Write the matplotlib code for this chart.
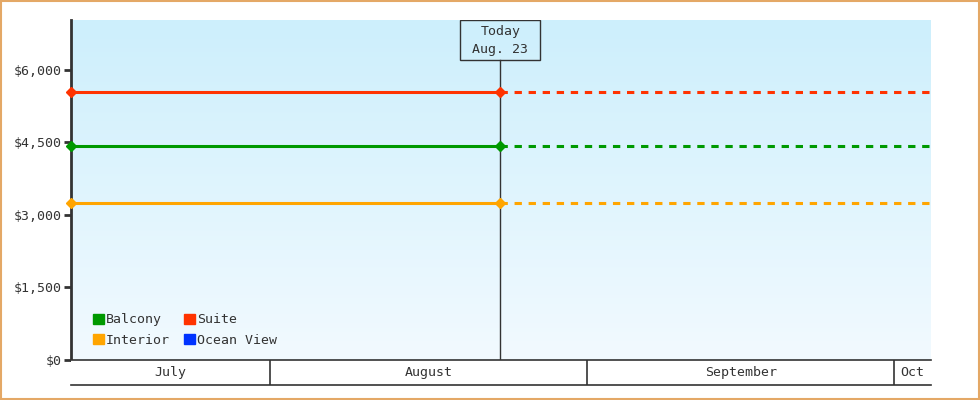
import matplotlib
matplotlib.use("Agg")
import matplotlib.pyplot as plt
import matplotlib.dates as mdates
import matplotlib.patches as mpatches
import numpy as np
from datetime import datetime

# data
cabins = ["Balcony", "Suite", "Interior", "Ocean View"]
prices = [4430, 5540, 3250, None]
colors = ["#009900", "#ff3300", "#ffa500", "#0033ff"]
start = datetime(2024, 7, 12, 13)
today = datetime(2024, 8, 23, 12)
end = datetime(2024, 10, 4, 14)
month_starts = [datetime(2024, 7, 1), datetime(2024, 8, 1), datetime(2024, 9, 1),
                datetime(2024, 10, 1), datetime(2024, 11, 1)]
month_names = ["July", "August", "September", "Oct"]
yticks = [0, 1500, 3000, 4500, 6000]

plt.rcParams['font.family'] = ['DejaVu Sans Mono']
dark = "#333333"

fig = plt.figure(figsize=(9.8, 4), dpi=100)
ax = fig.add_axes([71/980, 40/400, 860/980, 340/400])

x0, x1 = mdates.date2num(start), mdates.date2num(end)
ymax = 7030

# gradient background
grad = np.linspace(0, 1, 256).reshape(-1, 1)
top = np.array([205, 239, 252]) / 255
bot = np.array([242, 250, 255]) / 255
img = top + (bot - top) * grad[:, :, None]
ax.imshow(img, extent=[x0, x1, 0, ymax], aspect='auto', origin='upper', zorder=0)

for name, p, c in zip(cabins, prices, colors):
    if p is None:
        continue
    ax.plot([start, today], [p, p], color=c, lw=2.2, marker='D', ms=5.5,
            clip_on=False, zorder=3, solid_capstyle='butt')
    ax.plot([today, end], [p, p], color=c, lw=2.2, ls=(0, (2.4, 2.2)),
            zorder=3, dash_capstyle='butt')

# today marker: box 80x40 px at the top, line down to the axis
tx = mdates.date2num(today)
half_w = 40 / 860 * (x1 - x0)
box_h = 40 / 340
xt = ax.get_xaxis_transform()
ax.add_patch(mpatches.Rectangle((tx - half_w, 1 - box_h), 2 * half_w, box_h,
                                transform=xt, fill=False, ec=dark, lw=1, zorder=4))
ax.plot([tx, tx], [0, 1 - box_h], color=dark, lw=1, zorder=2, transform=xt)
ax.text(tx, 1 - 12/340, "Today", ha='center', va='center', fontsize=9.5,
        color=dark, transform=xt, zorder=4)
ax.text(tx, 1 - 29/340, "Aug. 23", ha='center', va='center', fontsize=9.5,
        color=dark, transform=xt, zorder=4)

ax.set_xlim(x0, x1)
ax.set_ylim(0, ymax)
ax.set_yticks(yticks)
ax.set_yticklabels(["${:,}".format(v) for v in yticks], fontsize=9.5, color=dark)
ax.tick_params(axis='y', length=5, width=2, color=dark, pad=2)
ax.set_xticks([])
for s in ['top', 'right', 'bottom']:
    ax.spines[s].set_visible(False)
ax.spines['left'].set_color(dark)
ax.spines['left'].set_linewidth(2)

handles = [mpatches.Patch(color=colors[i], label=cabins[i]) for i in [0, 2, 1, 3]]
ax.legend(handles=handles, ncol=2, loc='lower left', bbox_to_anchor=(0.025, 0.039),
          frameon=False, fontsize=9.5, handlelength=0.85, handleheight=0.85,
          handletextpad=0.15, columnspacing=1.05, labelspacing=0.55, borderaxespad=0,
          borderpad=0, labelcolor=dark)

# month band
band = fig.add_axes([71/980, 15/400, 860/980, 25/400], sharex=ax)
band.set_ylim(0, 1)
band.set_yticks([])
band.tick_params(axis='x', length=0, labelbottom=False)
for s in ['left', 'right']:
    band.spines[s].set_visible(False)
for s in ['top', 'bottom']:
    band.spines[s].set_color(dark)
    band.spines[s].set_linewidth(1.2)
for i, m in enumerate(month_names):
    a = max(mdates.date2num(month_starts[i]), x0)
    b = min(mdates.date2num(month_starts[i + 1]), x1)
    band.text((a + b) / 2, 0.5, m, ha='center', va='center', fontsize=9.5, color=dark)
    if mdates.date2num(month_starts[i]) > x0:
        band.axvline(month_starts[i], color=dark, lw=1.2)

fig.patches.append(mpatches.Rectangle((0.75/980, 0.75/400), 978.5/980, 398.5/400,
                                      transform=fig.transFigure, fill=False,
                                      ec="#e4a866", lw=1.5))

fig.savefig("out.png", dpi=100)
